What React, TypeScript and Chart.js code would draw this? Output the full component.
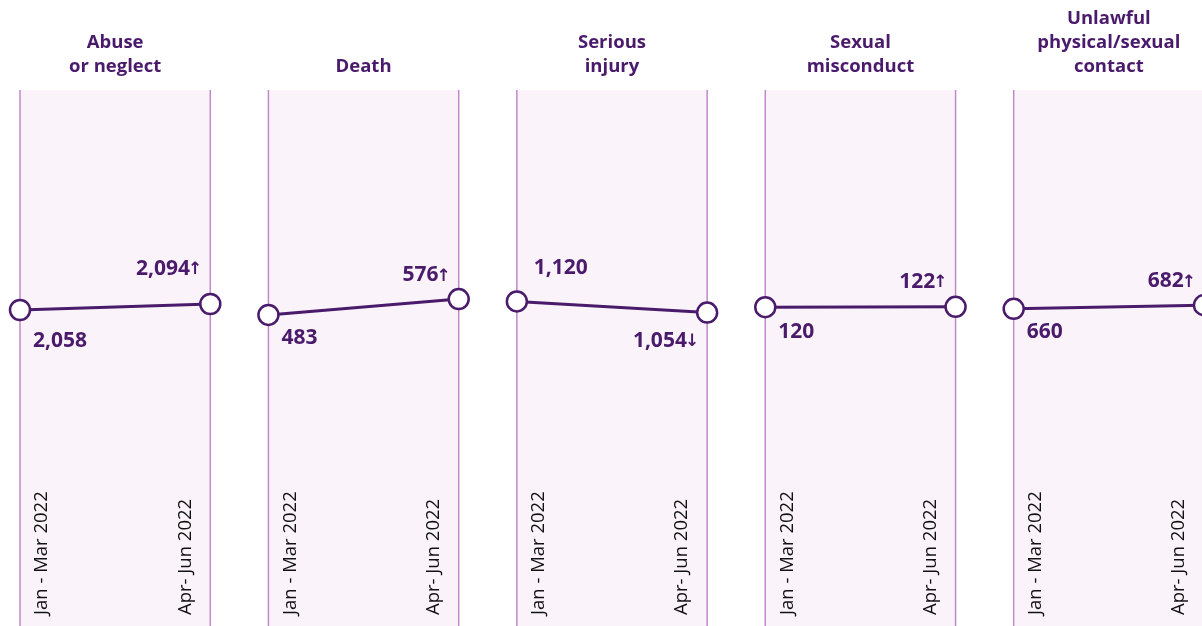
import React, { useEffect, useRef } from "react";
import { Chart, registerables } from "chart.js";

Chart.register(...registerables);

const titles: string[][] = [
  ["Abuse", "or neglect"],
  ["Death"],
  ["Serious", "injury"],
  ["Sexual", "misconduct"],
  ["Unlawful", "physical/sexual", "contact"],
];
const janMar = [2058, 483, 1120, 120, 660];
const aprJun = [2094, 576, 1054, 122, 682];
const periodLabels = ["Jan - Mar 2022", "Apr- Jun 2022"];

const DARK = "#4a1a6b";
const EDGE = "#c08ac8";
const BG = "#faf4fa";
const FONT = "'Open Sans', 'Noto Sans', sans-serif";

const PAIR_GAP = 0.766; // second point offset within a panel, in panel units
const UNITS_PER_PX = 5.9;
// vertical offsets (px) of the value labels from their points: [first, second]
const LABEL_GAPS = [
  [31, -35],
  [23, -24],
  [-33, 28],
  [25, -25],
  [23, -24],
];

const fmt = (v: number) => v.toLocaleString("en-GB");

export default function App() {
  const ref = useRef<HTMLCanvasElement | null>(null);

  useEffect(() => {
    if (!ref.current) return;
    const scales: any = {
      x: { type: "linear", display: false, min: -0.0805, max: 4.758 },
    };
    janMar.forEach((a, i) => {
      const mean = (a + aprJun[i]) / 2;
      scales["y" + i] = {
        type: "linear",
        display: false,
        min: mean - 319 * UNITS_PER_PX,
        max: mean + 307 * UNITS_PER_PX,
      };
    });

    const datasets = janMar.map((a, i) => ({
      label: titles[i].join(" "),
      data: [
        { x: i, y: a },
        { x: i + PAIR_GAP, y: aprJun[i] },
      ],
      yAxisID: "y" + i,
      borderColor: DARK,
      borderWidth: 3,
      pointRadius: 10,
      pointBorderWidth: 2.5,
      pointBackgroundColor: "#ffffff",
      pointBorderColor: DARK,
      clip: false as any,
    }));

    const panelPlugin = {
      id: "panels",
      beforeDatasetsDraw(chart: any) {
        const { ctx } = chart;
        const xs = chart.scales.x;
        const H = chart.height;
        ctx.save();
        janMar.forEach((_, i) => {
          const x0 = xs.getPixelForValue(i);
          const x1 = xs.getPixelForValue(i + PAIR_GAP);
          ctx.fillStyle = BG;
          ctx.fillRect(x0, 90, x1 - x0, H - 90);
          ctx.strokeStyle = EDGE;
          ctx.lineWidth = 1.5;
          ctx.beginPath();
          ctx.moveTo(x0, 90);
          ctx.lineTo(x0, H);
          ctx.moveTo(x1, 90);
          ctx.lineTo(x1, H);
          ctx.stroke();

          // period labels
          ctx.fillStyle = "#111111";
          ctx.font = `18.5px ${FONT}`;
          ctx.textAlign = "left";
          ctx.textBaseline = "middle";
          [
            [x0 + 22, periodLabels[0]],
            [x1 - 25, periodLabels[1]],
          ].forEach(([x, t]: any) => {
            ctx.save();
            ctx.translate(x, 615);
            ctx.rotate(-Math.PI / 2);
            ctx.fillText(t, 0, 0);
            ctx.restore();
          });

          // titles
          const cx = (x0 + x1) / 2;
          ctx.fillStyle = DARK;
          ctx.font = `bold 18.5px ${FONT}`;
          ctx.textAlign = "center";
          const lines = titles[i];
          lines.forEach((ln, k) => {
            ctx.fillText(ln, cx, 67 - (lines.length - 1 - k) * 24);
          });
        });
        ctx.restore();
      },
      afterDatasetsDraw(chart: any) {
        const { ctx } = chart;
        ctx.save();
        ctx.fillStyle = DARK;
        ctx.textBaseline = "middle";
        janMar.forEach((a, i) => {
          const meta = chart.getDatasetMeta(i);
          const p0 = meta.data[0];
          const p1 = meta.data[1];
          const b = aprJun[i];
          const up = b >= a;
          const [g0, g1] = LABEL_GAPS[i];
          // first label
          ctx.font = `bold 21px ${FONT}`;
          ctx.textAlign = "left";
          ctx.fillText(fmt(a), p0.x + (up ? 13 : 17), p0.y + g0);
          // second label with arrow
          const y1 = p1.y + g1;
          const right = p1.x - 8;
          ctx.font = `bold 17px 'DejaVu Sans', sans-serif`;
          ctx.textAlign = "right";
          const arrow = up ? "↑" : "↓";
          const aw = ctx.measureText(arrow).width;
          ctx.fillText(arrow, right, y1 + 1);
          ctx.font = `bold 21px ${FONT}`;
          ctx.fillText(fmt(b), right - aw + 2, y1);
        });
        ctx.restore();
      },
    };

    const chart = new Chart(ref.current, {
      type: "line",
      data: { datasets },
      options: {
        animation: false,
        responsive: false,
        maintainAspectRatio: false,
        layout: { padding: 0, autoPadding: false },
        scales,
        plugins: { legend: { display: false }, tooltip: { enabled: false } },
      },
      plugins: [panelPlugin],
    });
    return () => chart.destroy();
  }, []);

  return (
    <div style={{ position: "absolute", left: 0, top: 0, width: 1202, height: 626, background: "#fff" }}>
      <canvas ref={ref} width={1202} height={626} style={{ display: "block" }} />
    </div>
  );
}
